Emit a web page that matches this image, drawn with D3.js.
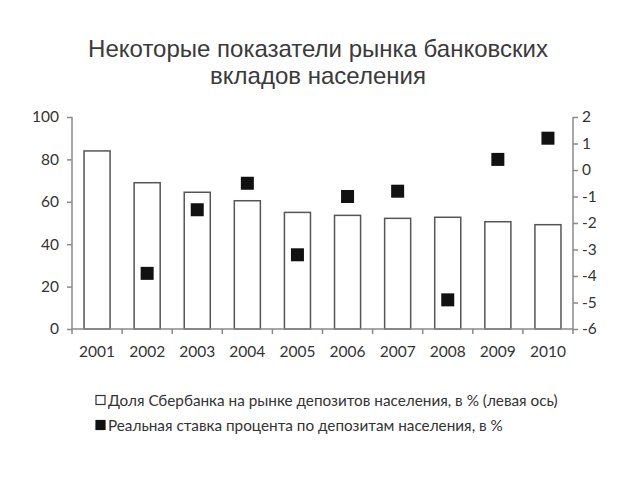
<!DOCTYPE html>
<html><head><meta charset="utf-8">
<script src="https://cdn.jsdelivr.net/npm/d3@7"></script>
<style>body{margin:0;background:#fff}</style>
</head><body>
<script>
const years = ["2001","2002","2003","2004","2005","2006","2007","2008","2009","2010"];
const sberShare = [84, 69, 64.5, 60.5, 55, 53.6, 52.2, 52.7, 50.6, 49.2];
const realRate = [null, -3.9, -1.5, -0.5, -3.2, -1.0, -0.8, -4.9, 0.4, 1.2];
const leftTicks = [0, 20, 40, 60, 80, 100];
const rightTicks = [2, 1, 0, -1, -2, -3, -4, -5, -6];
const titleLines = ["Некоторые показатели рынка банковских", "вкладов населения"];
const legendLabels = ["Доля Сбербанка на рынке депозитов населения, в % (левая ось)", "Реальная ставка процента по депозитам населения, в %"];

const W = 640, H = 480;
const svg = d3.select("body").append("svg").attr("width", W).attr("height", H);
const font = "Lato, 'Open Sans', sans-serif";

svg.selectAll("text.title").data(titleLines).enter().append("text")
  .attr("x", 318).attr("y", (d,i) => 57 + i*27)
  .attr("text-anchor", "middle").attr("font-family", "'Liberation Sans', Arial, sans-serif")
  .attr("font-size", 24).attr("fill", "#3a3a3a").text(d => d);

const x0 = 72, x1 = 573, yTop = 117, yBot = 329;
const x = d3.scaleBand().domain(years).range([x0, x1]).paddingInner(0.48).paddingOuter(0.24);
const yL = d3.scaleLinear().domain([0, 100]).range([yBot, yTop]);
const yR = d3.scaleLinear().domain([-6, 2]).range([yBot, yTop]);

// bars
svg.append("g").selectAll("rect").data(years).enter().append("rect")
  .attr("x", d => x(d)).attr("width", x.bandwidth())
  .attr("y", (d,i) => yL(sberShare[i])).attr("height", (d,i) => yBot - yL(sberShare[i]))
  .attr("fill", "#fff").attr("stroke", "#555").attr("stroke-width", 1.5);

const axisColor = "#8a8a8a", textColor = "#333";
const gl = svg.append("g").attr("transform", `translate(${x0},0)`)
  .call(d3.axisLeft(yL).tickValues(leftTicks).tickSize(5).tickPadding(8));
const gr = svg.append("g").attr("transform", `translate(${x1},0)`)
  .call(d3.axisRight(yR).tickValues(rightTicks).tickSize(5).tickPadding(4).tickFormat(d => String(d)));
const gb = svg.append("g").attr("transform", `translate(0,${yBot})`)
  .call(d3.axisBottom(x).tickSize(0).tickPadding(17));
const step = x.step();
gb.selectAll("line.bound").data(d3.range(years.length + 1)).enter().append("line")
  .attr("class", "bound")
  .attr("x1", i => x0 + i*step).attr("x2", i => x0 + i*step)
  .attr("y1", 0).attr("y2", 5).attr("stroke", axisColor).attr("stroke-width", 1.5);

[gl, gr, gb].forEach(g => {
  g.selectAll(".domain").attr("stroke", axisColor).attr("stroke-width", 1.5);
  g.selectAll(".tick line").attr("stroke", axisColor).attr("stroke-width", 1.5);
  g.selectAll("text").attr("font-family", font).attr("font-size", 15.5).attr("fill", textColor);
});
gl.select(".domain").attr("d", `M0,${yTop}V${yBot}`);
gr.select(".domain").attr("d", `M0,${yTop}V${yBot}`);
gb.select(".domain").attr("d", `M${x0},0H${x1}`);

// squares
const sq = 13;
svg.append("g").selectAll("rect").data(years.map((y,i)=>({y, v: realRate[i]})).filter(d => d.v !== null))
  .enter().append("rect")
  .attr("x", d => x(d.y) + x.bandwidth()/2 - sq/2).attr("y", d => yR(d.v) - sq/2)
  .attr("width", sq).attr("height", sq).attr("fill", "#111");

// legend
const lg = svg.append("g");
legendLabels.forEach((t, i) => {
  const cy = 400 + i*25;
  lg.append("rect").attr("x", 96).attr("y", cy - 4.5).attr("width", 9).attr("height", 9)
    .attr("fill", i === 0 ? "#fff" : "#111").attr("stroke", i === 0 ? "#333" : "#111").attr("stroke-width", 1.2);
  lg.append("text").attr("x", 108).attr("y", cy + 5.5).attr("font-family", font)
    .attr("font-size", 15.3).attr("fill", textColor).text(t);
});
</script>
</body></html>
